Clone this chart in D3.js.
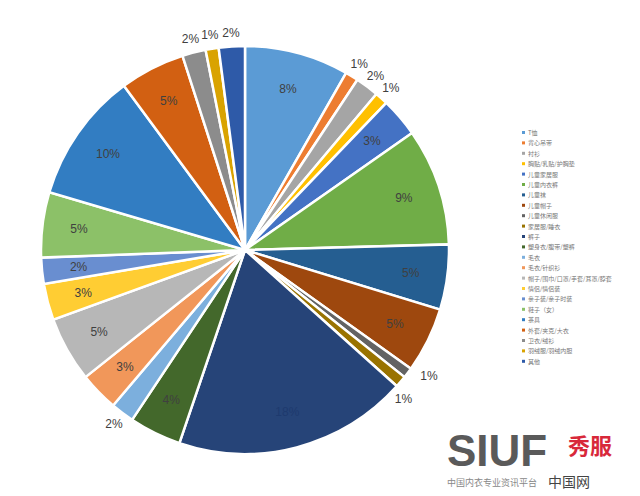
<!DOCTYPE html><html><head><meta charset="utf-8"><script src="https://cdn.jsdelivr.net/npm/d3@7"></script>
<style>body{margin:0;background:#fff}</style></head><body><svg id="c" width="640" height="496"></svg>
<script>
const categories=["T恤","背心吊带","衬衫","胸贴/乳贴/护胸垫","儿童家居服","儿童内衣裤","儿童袜","儿童帽子","儿童休闲服","家居服/睡衣","裤子","塑身衣/腹带/塑裤","毛衣","毛衣/针织衫","帽子/围巾/口罩/手套/耳罩/脖套","情侣/情侣装","亲子装/亲子时装","鞋子（女）","茶具","外套/夹克/大衣","卫衣/绒衫","羽绒服/羽绒内胆","其他"];
const values=[8,1,1.8,1,3,9,5,5,0.8,0.9,18,4,1.8,3,5,2.8,2,5,10,5,1.8,1,2];
const labels=["8%","1%","2%","1%","3%","9%","5%","5%","1%","1%","18%","4%","2%","3%","5%","3%","2%","5%","10%","5%","2%","1%","2%"];
const colors=["#5B9BD5","#ED7D31","#A5A5A5","#FFC000","#4472C4","#70AD47","#255E91","#9E480E","#636363","#997300","#264478","#43682B","#7CAFDD","#F1975A","#B7B7B7","#FFCD33","#698ED0","#8CC168","#327DC2","#D26012","#8C8C8C","#D9A300","#2E5AA8"];
const svg=d3.select("#c"),cx=245,cy=250,r=204;
const pie=d3.pie().sort(null).value(d=>d)(values);
const g=svg.append("g").attr("transform",`translate(${cx},${cy})`);
const arc=d3.arc().innerRadius(0).outerRadius(r);
g.selectAll("path").data(pie).join("path").attr("d",arc).attr("fill",(d,i)=>colors[i]).attr("stroke","#fff").attr("stroke-width",2.5);
const inArc=d3.arc().innerRadius(r*0.82).outerRadius(r*0.82);
const outArc=d3.arc().innerRadius(r+14).outerRadius(r+14);
const shift={8:[10,-6],9:[-8,8]};
g.selectAll("text").data(pie).join("text").attr("transform",(d,i)=>{const a=(values[i]<=2&&i!==16)?outArc:inArc;const c=a.centroid(d);const s=shift[i]||[0,0];return `translate(${c[0]+s[0]},${c[1]+s[1]})`;})
 .attr("text-anchor","middle").attr("dy","0.35em").attr("font-family","Liberation Sans, Arial").attr("font-size",12)
 .attr("fill",(d,i)=>i===10?"#1e3a6e":"#404040").text((d,i)=>labels[i]);
const lg=svg.append("g").attr("transform","translate(522,133)");
categories.forEach((c,i)=>{const y=i*10.4;lg.append("rect").attr("x",0).attr("y",y-2).attr("width",3).attr("height",3).attr("fill",colors[i]);
lg.append("text").attr("x",6).attr("y",y+2).attr("font-size",6).attr("fill","#777").attr("font-family","Noto Sans CJK SC").text(c);});
svg.append("text").attr("x",447).attr("y",466).attr("font-family","Liberation Sans").attr("font-weight","bold").attr("font-size",44).attr("fill","#5a5a5a").text("SIUF");
svg.append("text").attr("x",568).attr("y",454).attr("font-family","Noto Sans CJK SC").attr("font-weight","bold").attr("font-size",22).attr("fill","#d8283a").text("秀服");
svg.append("text").attr("x",447).attr("y",486).attr("font-family","Noto Sans CJK SC").attr("font-size",9).attr("fill","#888").text("中国内衣专业资讯平台");
svg.append("text").attr("x",548).attr("y",487).attr("font-family","Noto Sans CJK SC").attr("font-size",14).attr("fill","#444").text("中国网");
</script></body></html>
